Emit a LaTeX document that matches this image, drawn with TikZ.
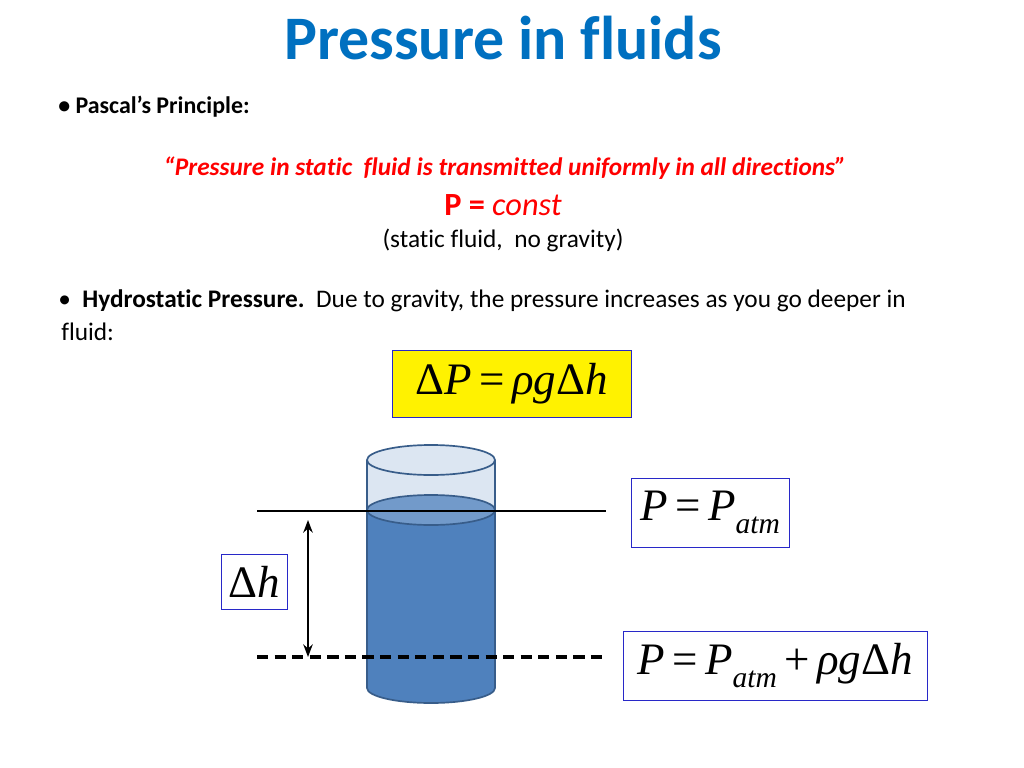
\documentclass[tikz,border=0pt]{standalone}
\usepackage{fontspec}
\setmainfont{Carlito}[Ligatures={NoCommon}]
\newfontfamily\eqfont{Liberation Serif}
\usetikzlibrary{arrows.meta}
\definecolor{titleblue}{RGB}{0,112,192}
\definecolor{waterblue}{RGB}{79,129,189}
\definecolor{glassblue}{RGB}{220,230,242}
\definecolor{rimblue}{RGB}{56,93,138}
\definecolor{boxblue}{RGB}{40,40,200}
\newcommand{\eqsub}[1]{\raisebox{-0.3em}{\fontsize{21}{24}\selectfont #1}}
\begin{document}
\begin{tikzpicture}[x=0.025cm, y=-0.025cm,
		eqbox/.style = {draw = boxblue, line width = 0.6pt, inner sep = 0pt, font = \eqfont\itshape\fontsize{32}{36}\selectfont},
		txt/.style = {anchor = west, inner sep = 0pt, font = \fontsize{18}{21}\selectfont}]

	\useasboundingbox (0,0) rectangle (1024,768);

	\node [font = \bfseries\fontsize{44}{50}\selectfont, text = titleblue] (title) at (503,38) {Pressure in fluids};
	\node [txt, font = \bfseries\fontsize{17}{20}\selectfont] (pascal) at (58,107) {\textbullet\ Pascal’s Principle:};
	\node [font = \bfseries\itshape\fontsize{18}{21}\selectfont, text = red] (quote) at (505,168)
		{“Pressure in static\ \ fluid is transmitted uniformly in all directions”};
	\node [font = \fontsize{23}{26}\selectfont, text = red] (pconst) at (503,205) {\textbf{P =} \textit{const}};
	\node [font = \fontsize{18}{21}\selectfont] (static) at (503,240) {(static fluid,\ \ no gravity)};
	\node [txt] (hydro) at (58,301) {\textbullet\ \ \textbf{Hydrostatic Pressure.}\ \ Due to gravity, the pressure increases as you go deeper in};
	\node [txt] (fluid) at (61,332) {fluid:};

	\node [eqbox, fill = yellow, minimum width = 239*0.025cm, minimum height = 67*0.025cm] (law) at (511.5,383.5)
		{\upshape Δ\itshape P\,\upshape =\,\itshape ρg\upshape Δ\itshape h};

	% cylinder
	\fill [waterblue] (367,510) -- (367,688) arc [start angle = 180, end angle = 0, x radius = 64, y radius = 15] -- (495,510) -- cycle;
	\fill [glassblue] (367,460) rectangle (495,510);
	\fill [waterblue!80!white, draw = rimblue, line width = 1.2pt] (431,510) ellipse [x radius = 64, y radius = 15];
	\draw [rimblue, line width = 1.2pt] (367,460) -- (367,688) arc [start angle = 180, end angle = 0, x radius = 64, y radius = 15] -- (495,460);
	\draw [rimblue, line width = 1.2pt, fill = glassblue] (431,460) ellipse [x radius = 64, y radius = 15];

	% levels
	\coordinate (top_l) at (257,511);
	\coordinate (top_r) at (606,511);
	\coordinate (bot_l) at (257,657);
	\coordinate (bot_r) at (606,657);
	\coordinate (arr_t) at (308,520);
	\coordinate (arr_b) at (308,657);
	\draw [line width = 1.4pt] (top_l) -- (top_r);
	\draw [line width = 2.4pt, dash pattern = on 8pt off 4.5pt] (bot_l) -- (bot_r);
	\draw [line width = 1.4pt, {Stealth[length = 9pt]}-{Stealth[length = 9pt]}] (arr_t) -- (arr_b);

	\node [eqbox, minimum width = 66*0.025cm, minimum height = 55*0.025cm] (dh) at (254,581.5) {\upshape Δ\itshape h};
	\node [eqbox, minimum width = 158*0.025cm, minimum height = 69*0.025cm] (patm) at (710,512.5)
		{P\,\upshape =\,\itshape P\eqsub{atm}};
	\node [eqbox, minimum width = 304*0.025cm, minimum height = 69*0.025cm] (pdeep) at (775,665.5)
		{P\,\upshape =\,\itshape P\eqsub{atm}\,\upshape +\,\itshape ρg\upshape Δ\itshape h};
\end{tikzpicture}
\end{document}
